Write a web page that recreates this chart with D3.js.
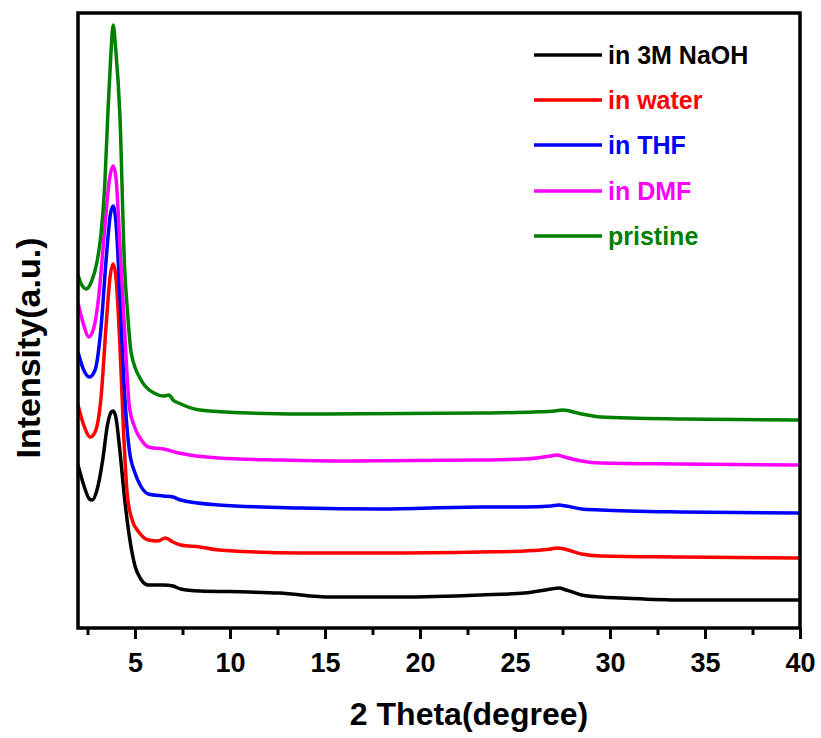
<!DOCTYPE html>
<html>
<head>
<meta charset="utf-8">
<script src="https://cdn.jsdelivr.net/npm/d3@7"></script>
<style>
  body { margin: 0; background: #fff; }
  text { font-family: Arial, "Liberation Sans", sans-serif; font-weight: bold; }
</style>
</head>
<body>
<div id="chart"></div>
<script>
// series names and colours, bottom to top
var seriesNames = ['in 3M NaOH', 'in water', 'in THF', 'in DMF', 'pristine'];
var seriesColors = ['#000000', '#ff0000', '#0000ff', '#ff00ff', '#008000'];

// 2 theta (degree) and stacked intensity (a.u.) for each curve
var thetaNaOH = [2,2.3,2.6,2.75,3.0,3.3,3.55,3.75,3.85,4.0,4.2,4.45,4.7,5.0,5.3,5.7,6.5,7.0,7.4,8.4,11,12.6,15.3,19,23.2,25.5,26.9,27.3,27.7,28.5,29.5,30.6,33.7,40];
var intNaOH   = [163,143,129,128,138,168,203,216,217,210,178,130,92,62,49,43,43,42,39,37,36,35,31,31,33,35,39,40,38,33,31,30,28,28];

var thetaWater = [2,2.3,2.65,2.9,3.2,3.5,3.7,3.85,4.0,4.2,4.4,4.6,4.85,5.2,5.7,6.2,6.6,7.0,7.4,8.4,9.4,13.7,17.9,23.2,25.5,26.9,27.2,27.6,28.5,29.5,33.7,40];
var intWater   = [223,203,191,196,228,308,353,364,350,285,195,132,108,96,88,87,90,86,83,81,78,75,75,76,77,79,80,79,74,72,71,70];

var thetaTHF = [2,2.3,2.6,2.9,3.2,3.5,3.7,3.85,4.0,4.2,4.45,4.7,5.0,5.3,5.7,6.5,7.0,7.4,9.4,13.7,17.9,23.2,25.5,26.9,27.3,27.7,28.5,29.5,33.7,40];
var intTHF   = [276,258,251,258,298,373,413,422,405,335,235,178,155,142,134,132,131,128,123,120,119,121,121,122,123,122,119,118,116,115];

var thetaDMF = [2,2.3,2.55,2.8,3.1,3.4,3.65,3.85,4.0,4.2,4.46,4.7,5.0,5.3,5.7,6.5,7.3,9.4,12.6,16.3,23.2,25.5,26.9,27.2,27.6,28.5,29.5,33.7,40];
var intDMF   = [325,303,291,298,333,398,448,462,450,385,295,222,200,189,181,179,175,170,168,167,168,169,172,173,171,167,165,164,163];

var thetaPristine = [2,2.2,2.44,2.7,3.0,3.2,3.4,3.58,3.72,3.85,3.98,4.2,4.45,4.6,4.8,5.35,6.0,6.5,6.8,7.0,7.3,8.4,11,15,23.2,26,27.1,27.5,28.5,29.5,33.7,40];
var intPristine   = [353,343,339,346,366,392,440,518,570,603,580,515,362,318,275,247,235,232,233,228,225,218,215,214,215,216,217,218,214,211,209,208];

var majorTicks = [5,10,15,20,25,30,35,40];
var minorTicks = [2.5,7.5,12.5,17.5,22.5,27.5,32.5,37.5];

var thetas = [thetaNaOH, thetaWater, thetaTHF, thetaDMF, thetaPristine];
var intens = [intNaOH, intWater, intTHF, intDMF, intPristine];

var width = 821, height = 738;
var plotLeft = 78, plotRight = 800, plotTop = 13, plotBottom = 628;

var svg = d3.select('#chart')
            .append('svg')
            .attr('width', width)
            .attr('height', height);

var x = d3.scaleLinear().domain([2, 40]).range([plotLeft, plotRight]);
var y = d3.scaleLinear().domain([0, 615]).range([plotBottom, plotTop]);

var line = d3.line()
    .x(function(d) { return x(d[0]); })
    .y(function(d) { return y(d[1]); })
    .curve(d3.curveMonotoneX);

// curves
var gLines = svg.append('g');
for (var i = 0; i < seriesNames.length; i++) {
    var pts = thetas[i].map(function(t, k) { return [t, intens[i][k]]; });
    gLines.append('path')
        .datum(pts)
        .attr('d', line)
        .style('fill', 'none')
        .style('stroke', seriesColors[i])
        .style('stroke-width', 3.5)
        .style('stroke-linejoin', 'round');
}

// minor ticks
svg.append('g')
    .attr('transform', 'translate(0,' + plotBottom + ')')
    .call(d3.axisBottom(x).tickValues(minorTicks).tickSize(7).tickFormat(''))
    .call(function(g) {
        g.select('.domain').remove();
        g.selectAll('line').style('stroke', '#000').style('stroke-width', 3);
    });

// major ticks
svg.append('g')
    .attr('transform', 'translate(0,' + plotBottom + ')')
    .call(d3.axisBottom(x).tickValues(majorTicks).tickSize(11).tickPadding(14))
    .call(function(g) {
        g.select('.domain').remove();
        g.selectAll('line').style('stroke', '#000').style('stroke-width', 3);
        g.selectAll('text')
            .style('font-size', '27px')
            .style('font-family', 'Arial, "Liberation Sans", sans-serif')
            .style('font-weight', 'bold')
            .attr('fill', '#000');
    });

// frame
svg.append('rect')
    .attr('x', plotLeft)
    .attr('y', plotTop)
    .attr('width', plotRight - plotLeft)
    .attr('height', plotBottom - plotTop)
    .style('fill', 'none')
    .style('stroke', '#000')
    .style('stroke-width', 3.5);

// axis titles
svg.append('text')
    .attr('x', 469)
    .attr('y', 725)
    .attr('text-anchor', 'middle')
    .style('font-size', '32px')
    .text('2 Theta(degree)');

svg.append('text')
    .attr('transform', 'translate(40,348) rotate(-90)')
    .attr('text-anchor', 'middle')
    .style('font-size', '34px')
    .text('Intensity(a.u.)');

// legend
var legendY = [55, 100, 145, 191, 236];
var gLegend = svg.append('g');
seriesNames.forEach(function(name, i) {
    gLegend.append('line')
        .attr('x1', 534).attr('x2', 602)
        .attr('y1', legendY[i]).attr('y2', legendY[i])
        .style('stroke', seriesColors[i])
        .style('stroke-width', 3.5);
    gLegend.append('text')
        .attr('x', 608)
        .attr('y', legendY[i] + 9)
        .style('font-size', '25px')
        .style('fill', seriesColors[i])
        .text(name);
});
</script>
</body>
</html>
